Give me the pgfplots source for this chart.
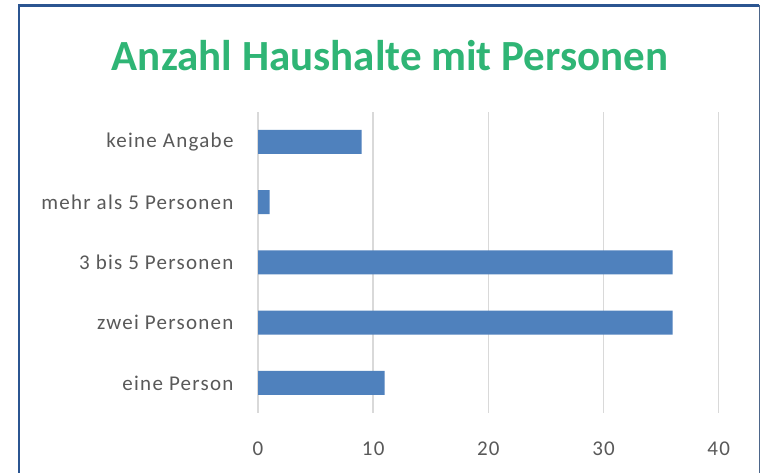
\documentclass[border=0pt]{standalone}
\usepackage{fontspec}
\setmainfont{Carlito}
\newfontfamily\lblfont[LetterSpace=6]{Carlito}
\usepackage{pgfplots}
\pgfplotsset{compat=1.18}
\definecolor{barblue}{HTML}{4F81BD}
\definecolor{titlegreen}{HTML}{2FB575}
\definecolor{framecol}{HTML}{2B5591}
\definecolor{txtgray}{HTML}{595959}
\definecolor{gridgray}{HTML}{D9D9D9}
\begin{document}
\begin{tikzpicture}[x=1pt,y=1pt]
\path[use as bounding box] (0,0) rectangle (760,473);
\fill[white] (0,0) rectangle (760,473);
\draw[framecol, line width=2.5pt] (19,-5) -- (19,467.5) -- (759,467.5);
\draw[framecol!60!gray, line width=1pt] (759,467.5) -- (759,-5);
\node[text=titlegreen, font=\fontsize{43}{46}\selectfont\bfseries, anchor=base] at (390,402) {Anzahl Haushalte mit Personen};
\begin{axis}[
  at={(258pt,60pt)}, anchor=south west,
  scale only axis, width=460.7pt, height=301.3pt,
  xmin=0, xmax=40, ymin=-0.5, ymax=4.5,
  xtick={0,10,20,30,40},
  ytick={0,1,2,3,4},
  yticklabels={eine Person, zwei Personen, 3 bis 5 Personen, mehr als 5 Personen, keine Angabe},
  axis line style={draw=none},
  tick style={draw=none},
  xmajorgrids, grid style={gridgray, line width=1.5pt},
  ticklabel style={text=txtgray, font=\lblfont\fontsize{21}{23}\selectfont},
  /pgf/number format/assume math mode=true,
  xticklabel style={yshift=-25pt},
  yticklabel style={xshift=-21pt},
  clip=false,
]
\addplot[xbar, bar width=24pt, fill=barblue, draw=none] coordinates {
  (11,0) (36,1) (36,2) (1,3) (9,4)
};
\end{axis}
\end{tikzpicture}
\end{document}
